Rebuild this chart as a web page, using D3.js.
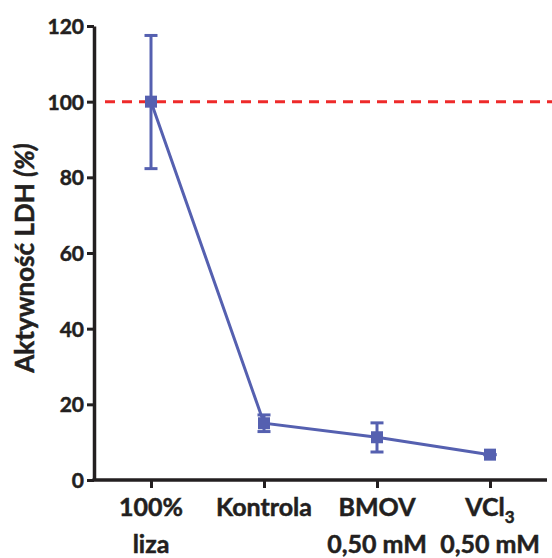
<!DOCTYPE html>
<html>
<head>
<meta charset="utf-8">
<script src="https://cdn.jsdelivr.net/npm/d3@7"></script>
<style>
  body { margin: 0; background: #fff; }
  text { font-family: Lato, "Open Sans", sans-serif; font-weight: 700; fill: #231f20;
         stroke: #231f20; stroke-width: 0.5px; }
</style>
</head>
<body>
<div class="chart"></div>
<script>
var groups = ["100% liza", "Kontrola", "BMOV 0,50 mM", "VCl3 0,50 mM"];
var means = [100, 15, 11.3, 6.7];
var errLow = [82.3, 12.8, 7.4, 6.7];
var errHigh = [117.5, 17.2, 15.1, 6.7];
var yTicks = [0, 20, 40, 60, 80, 100, 120];
var refLine = 100;

var w = 552, h = 558,
    mLeft = 94, mRight = 547, mTop = 26, mBottom = 480;

var svg = d3.select(".chart").append("svg")
    .attr("width", w)
    .attr("height", h);

var x = d3.scalePoint().domain(groups).range([151, 490]);
var y = d3.scaleLinear().domain([0, 120]).range([mBottom, mTop]);

var blue = "#5560b0";

// y axis
var yAxis = svg.append("g")
    .attr("transform", "translate(" + mLeft + ",0)")
    .call(d3.axisLeft(y).tickValues(yTicks).tickSize(7).tickSizeOuter(0));
yAxis.select(".domain").attr("stroke", "#231f20").attr("stroke-width", 3.5);
yAxis.selectAll(".tick line").attr("stroke", "#231f20").attr("stroke-width", 3);
yAxis.selectAll(".tick text").attr("x", -10).attr("dy", "0.36em")
    .style("font-size", "21px");

// x axis
var xAxis = svg.append("g")
    .attr("transform", "translate(0," + mBottom + ")")
    .call(d3.axisBottom(x).tickSize(8).tickSizeOuter(0).tickFormat(""));
xAxis.select(".domain").attr("d", "M" + (mLeft - 1.5) + ",0H" + mRight)
    .attr("stroke", "#231f20").attr("stroke-width", 3.5);
xAxis.selectAll(".tick line").attr("stroke", "#231f20").attr("stroke-width", 3);

// category labels
var lines = [["100%", "liza"], ["Kontrola", ""], ["BMOV", "0,50 mM"], ["VCl", "0,50 mM"]];
groups.forEach(function (g, i) {
  var t = svg.append("text")
      .attr("x", x(g))
      .attr("y", 516)
      .attr("text-anchor", "middle")
      .style("font-size", "25px")
      .text(lines[i][0]);
  if (i === 3) {
    t.append("tspan").attr("dy", 7).style("font-size", "17px").text("3");
  }
  svg.append("text")
      .attr("x", x(g))
      .attr("y", 553)
      .attr("text-anchor", "middle")
      .style("font-size", "25px")
      .text(lines[i][1]);
});

// y label
var yl = svg.append("text")
    .attr("transform", "translate(34,258) rotate(-90)")
    .attr("text-anchor", "middle")
    .style("font-size", "26px");
yl.append("tspan").text("Aktywność LDH ");
yl.append("tspan").style("font-style", "italic").text("(%)");

// reference line
svg.append("line")
    .attr("x1", 105).attr("x2", w)
    .attr("y1", y(refLine)).attr("y2", y(refLine))
    .attr("stroke", "#ee2a2a")
    .attr("stroke-width", 3)
    .attr("stroke-dasharray", "10,7");

// connecting line
svg.append("path")
    .datum(groups)
    .attr("fill", "none")
    .attr("stroke", blue)
    .attr("stroke-width", 3)
    .attr("d", d3.line().x(d => x(d)).y((d, i) => y(means[i])));

// error bars
var eb = svg.selectAll(".err").data(groups).enter().append("g").attr("class", "err");
eb.append("line")
    .attr("x1", d => x(d)).attr("x2", d => x(d))
    .attr("y1", (d, i) => y(errLow[i])).attr("y2", (d, i) => y(errHigh[i]))
    .attr("stroke", blue).attr("stroke-width", 3);
eb.append("line")
    .attr("x1", d => x(d) - 6.5).attr("x2", d => x(d) + 6.5)
    .attr("y1", (d, i) => y(errLow[i])).attr("y2", (d, i) => y(errLow[i]))
    .attr("stroke", blue).attr("stroke-width", 3);
eb.append("line")
    .attr("x1", d => x(d) - 6.5).attr("x2", d => x(d) + 6.5)
    .attr("y1", (d, i) => y(errHigh[i])).attr("y2", (d, i) => y(errHigh[i]))
    .attr("stroke", blue).attr("stroke-width", 3);

// markers
svg.selectAll(".pt").data(groups).enter().append("rect")
    .attr("class", "pt")
    .attr("x", d => x(d) - 6)
    .attr("y", (d, i) => y(means[i]) - 6)
    .attr("width", 12).attr("height", 12)
    .attr("fill", blue);
</script>
</body>
</html>
